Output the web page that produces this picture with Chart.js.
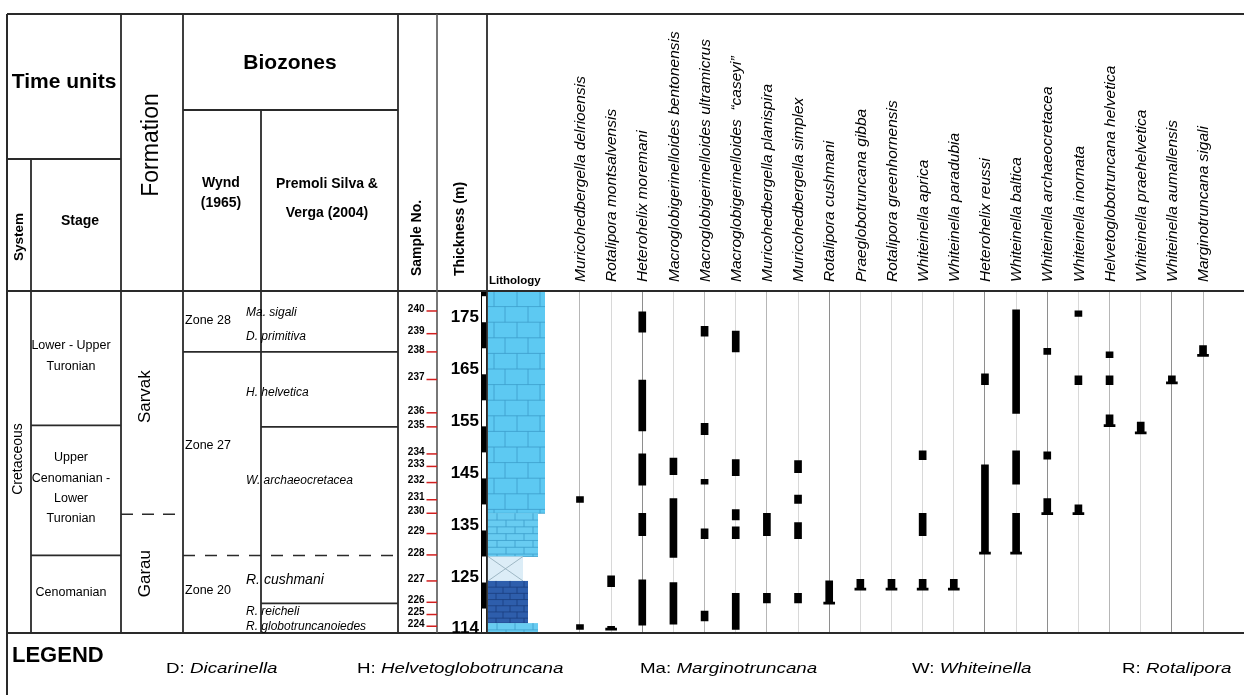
<!DOCTYPE html>
<html><head><meta charset="utf-8">
<script src="https://cdn.jsdelivr.net/npm/chart.js@4.4.1/dist/chart.umd.min.js"></script>
<style>html,body{margin:0;padding:0;background:#fff;}canvas{display:block;}</style>
</head><body>
<canvas id="c" width="1244" height="695"></canvas>
<script>
// ---------------- DATA ----------------
const species = [
  'Muricohedbergella delrioensis','Rotalipora montsalvensis','Heterohelix moremani',
  'Macroglobigerinelloides bentonensis','Macroglobigerinelloides ultramicrus',
  'Macroglobigerinelloides  \u201Ccaseyi\u201D','Muricohedbergella planispira','Muricohedbergella simplex',
  'Rotalipora cushmani','Praeglobotruncana gibba','Rotalipora greenhornensis','Whiteinella aprica',
  'Whiteinella paradubia','Heterohelix reussi','Whiteinella baltica','Whiteinella archaeocretacea',
  'Whiteinella inornata','Helvetoglobotruncana helvetica','Whiteinella praehelvetica',
  'Whiteinella aumallensis','Marginotruncana sigali'
];
// [species index, low (m), high (m)]
const ranges = [
  [0,139.4,140.5],[0,115.0,115.9],
  [1,123.2,125.3],[1,115.0,115.6],
  [2,172.1,176.0],[2,153.1,162.9],[2,142.7,148.7],[2,133.0,137.3],[2,115.8,124.5],
  [3,144.7,147.9],[3,128.8,140.1],[3,116.0,124.0],
  [4,171.3,173.2],[4,152.4,154.6],[4,142.9,143.8],[4,132.4,134.3],[4,116.6,118.5],
  [5,168.3,172.3],[5,144.5,147.6],[5,136.0,138.0],[5,132.4,134.7],[5,115.0,121.9],
  [6,133.0,137.3],[6,120.1,121.9],
  [7,145.1,147.4],[7,139.2,140.8],[7,132.4,135.5],[7,120.1,121.9],
  [8,120.0,124.3],
  [9,122.7,124.6],
  [10,122.7,124.6],
  [11,147.6,149.3],[11,133.0,137.3],[11,122.7,124.6],
  [12,122.7,124.6],
  [13,162.0,164.1],[13,129.6,146.6],
  [14,156.5,176.4],[14,142.9,149.3],[14,129.6,137.3],
  [15,167.8,169.0],[15,147.7,149.1],[15,137.2,140.1],
  [16,175.1,176.2],[16,162.0,163.7],[16,137.2,138.9],
  [17,167.2,168.3],[17,162.0,163.7],[17,154.1,156.2],
  [18,152.7,154.8],
  [19,162.3,163.7],
  [20,167.6,169.5]
];
// first-occurrence base markers: [species index, level (m)]
const feet = [[1,115.0],[8,120.0],[9,122.7],[10,122.7],[11,122.7],[12,122.7],[13,129.6],
  [14,129.6],[15,137.2],[16,137.2],[17,154.1],[18,152.7],[19,162.3],[20,167.6]];

const thicknessTicks = [114,125,135,145,155,165,175];
const sampleNo  = [224,225,226,227,228,229,230,231,232,233,234,235,236,237,238,239,240];
const sampleAt  = [115.6,117.85,120.2,124.3,129.3,133.4,137.3,139.9,143.2,146.3,148.7,153.9,156.6,163.0,168.3,171.8,176.16];

const scaleBarBlack = [[119,124],[129,134],[139,144],[149,154],[159,164],[169,174],[179,180]];

const lithoTop  = [180,137.3,129.0,124.3,116.2];
const lithoBase = [137.3,129.0,124.3,116.2,114.3];
const lithoType = ['limestone','thinLimestone','covered','darkLimestone','thinLimestone'];

const systemName = 'Cretaceous';
const stageNames = [['Lower - Upper','Turonian'],['Upper','Cenomanian -','Lower','Turonian'],['Cenomanian']];
const stageBounds = [180,154.2,129.2,114.3];
const formationNames = ['Sarvak','Garau'];
const formationBounds = [180,137.1,114.3];
const wyndZones = ['Zone 28','Zone 27','Zone 20'];
const wyndBounds = [180,168.3,129.2,114.3];
const premoliBounds = [168.3,153.9,129.2,120.0];
const premoliDashed = [false,false,true,false];
const premoliLabels = ['Ma. sigali','D. primitiva','H. helvetica','W. archaeocretacea','R. cushmani','R. reicheli','R. globotruncanoiedes'];
const premoliAt = [175.8,171.3,160.5,143.5,124.5,118.4,115.5];

const legendAbbr  = ['D','H','Ma','W','R'];
const legendGenus = ['Dicarinella','Helvetoglobotruncana','Marginotruncana','Whiteinella','Rotalipora'];

// ---------------- DRAWING ----------------
const FONT = '"Liberation Sans", Arial, Helvetica, sans-serif';
const darkCols = [2,8,13,15,19], midCols = [0,4,6,17,20];

function txt(ctx, s, x, y, font, align, rot, sx){
  ctx.save(); ctx.translate(x,y); if(rot) ctx.rotate(rot); if(sx) ctx.scale(sx,1);
  ctx.font = font; ctx.fillStyle = '#000'; ctx.textAlign = align || 'center'; ctx.textBaseline = 'middle';
  ctx.fillText(s,0,0); ctx.restore();
}
function ln(ctx,x1,y1,x2,y2,w,col,dash){
  ctx.save(); ctx.beginPath(); ctx.lineWidth = w||1.6; ctx.strokeStyle = col||'#2a2a2a';
  if(dash) ctx.setLineDash(dash);
  ctx.moveTo(x1,y1); ctx.lineTo(x2,y2); ctx.stroke(); ctx.restore();
}

const lithoStyle = {
  limestone:     {right:545, fill:'#5dc9f2', stroke:'#3c9dca', bed:15.6, joints:[[6,29,52],[17,40]]},
  thinLimestone: {right:538, fill:'#68ccf1', stroke:'#3c9dca', bed:6.8, joints:[[9,27,45],[18,36]]},
  covered:       {right:523, fill:'#dcedf7', stroke:'#8ea9b8'},
  darkLimestone: {right:528, fill:'#2e5eac', stroke:'#1a3d7e', bed:6.2, joints:[[8,22,36],[15,29]]}
};
const LX = 488;

const tablePlugin = {
  id: 'tablePlugin',
  beforeDraw(chart){
    const ctx = chart.ctx, Y = v => chart.scales.y.getPixelForValue(v);
    ctx.save();
    ctx.fillStyle = '#fff'; ctx.fillRect(0,0,chart.width,chart.height);
    // lithology column
    lithoType.forEach((t,i)=>{
      const st = lithoStyle[t], y1 = Y(lithoTop[i]), y2 = Y(lithoBase[i]);
      ctx.fillStyle = st.fill; ctx.fillRect(LX, y1, st.right-LX, y2-y1);
      ctx.strokeStyle = st.stroke; ctx.lineWidth = 0.8;
      if(t === 'covered'){
        ctx.beginPath(); ctx.moveTo(LX,y1); ctx.lineTo(st.right,y2); ctx.moveTo(st.right,y1); ctx.lineTo(LX,y2);
        ctx.stroke();
      } else {
        let k = 0;
        for(let yy = y1; yy < y2 - 0.5; yy += st.bed, k++){
          const yb = Math.min(yy + st.bed, y2);
          ctx.beginPath(); ctx.moveTo(LX, yb); ctx.lineTo(st.right, yb); ctx.stroke();
          st.joints[k%2].forEach(dx=>{ if(LX+dx < st.right){ ctx.beginPath(); ctx.moveTo(LX+dx,yy); ctx.lineTo(LX+dx,yb); ctx.stroke(); }});
        }
      }
    });
    // thickness scale bar
    const top = chart.chartArea.top, bot = chart.chartArea.bottom;
    ctx.fillStyle = '#fff'; ctx.fillRect(481, top, 6, bot-top);
    ctx.strokeStyle = '#000'; ctx.lineWidth = 1; ctx.strokeRect(481.5, top, 5, bot-top);
    ctx.fillStyle = '#000';
    scaleBarBlack.forEach(([a,b])=>{ ctx.fillRect(481, Y(b), 6, Y(a)-Y(b)); });
    ctx.restore();
  },
  afterDraw(chart){
    const ctx = chart.ctx, Y = v => chart.scales.y.getPixelForValue(v);
    const T = chart.chartArea.top, B = chart.chartArea.bottom;
    const XL=7, XSYS=31, XTIME=121, XFORM=183, XWYND=261, XPREM=398, XSAMP=437, XTHK=487, XR=1244;
    // frame
    ln(ctx, XL, 14, XR, 14, 2);
    ln(ctx, XL, 14, XL, 695, 2);
    ln(ctx, XL, T, XR, T, 2);
    ln(ctx, XL, B, XR, B, 2);
    ln(ctx, XL, 159, XTIME, 159, 1.8);
    ln(ctx, XSYS, 159, XSYS, B, 1.8);
    [XTIME, XFORM, XPREM].forEach(x=>ln(ctx, x, 14, x, B, 1.8));
    ln(ctx, XSAMP, 14, XSAMP, B, 1.6, '#555');
    ln(ctx, XTHK, 14, XTHK, B, 1.8);
    ln(ctx, XFORM, 110, XPREM, 110, 1.8);
    ln(ctx, XWYND, 110, XWYND, B, 1.8);
    // stage boundaries
    stageBounds.slice(1,-1).forEach(v=>ln(ctx, XSYS, Y(v), XTIME, Y(v), 1.8));
    formationBounds.slice(1,-1).forEach(v=>ln(ctx, XTIME, Y(v), XFORM, Y(v), 1.4, '#2a2a2a', [12,9]));
    premoliBounds.forEach((v,i)=>{
      const x0 = (v === wyndBounds[1] || premoliDashed[i]) ? XFORM : XWYND;
      ln(ctx, x0, Y(v), XPREM, Y(v), premoliDashed[i]?1.4:1.8, '#2a2a2a', premoliDashed[i]?[12,10]:null);
    });
    // header texts
    txt(ctx,'Time units',64,82,'bold 21px '+FONT);
    txt(ctx,'Formation',152,145,'23px '+FONT,'center',-Math.PI/2);
    txt(ctx,'Biozones',290,63,'bold 21px '+FONT);
    txt(ctx,'Wynd',221,183,'bold 14px '+FONT);
    txt(ctx,'(1965)',221,203,'bold 14px '+FONT);
    txt(ctx,'Premoli Silva &',327,184,'bold 14px '+FONT);
    txt(ctx,'Verga (2004)',327,213,'bold 14px '+FONT);
    txt(ctx,'System',19,237,'bold 13.5px '+FONT,'center',-Math.PI/2);
    txt(ctx,'Stage',80,221,'bold 14px '+FONT);
    txt(ctx,'Sample No.',417,238,'bold 14px '+FONT,'center',-Math.PI/2);
    txt(ctx,'Thickness (m)',460,229,'bold 14px '+FONT,'center',-Math.PI/2);
    txt(ctx,'Lithology',489,281,'bold 11.5px '+FONT,'left');
    // body texts
    txt(ctx, systemName, 18, (T+B)/2-3, '14px '+FONT,'center',-Math.PI/2);
    stageNames.forEach((lines,i)=>{
      const c = (Y(stageBounds[i])+Y(stageBounds[i+1]))/2, lh = 20.3;
      lines.forEach((s,j)=>txt(ctx, s, 71, c + (j-(lines.length-1)/2)*lh - 2, '12.5px '+FONT));
    });
    formationNames.forEach((s,i)=>{
      const c = (Y(formationBounds[i])+Y(formationBounds[i+1]))/2;
      txt(ctx, s, 145, c - (i===0?6:0), '17px '+FONT,'center',-Math.PI/2);
    });
    wyndZones.forEach((s,i)=>{
      const c = (Y(wyndBounds[i])+Y(wyndBounds[i+1]))/2;
      txt(ctx, s, 208, c - (i===1?8:(i===2?4:1)), '12.5px '+FONT);
    });
    premoliLabels.forEach((s,i)=>{
      txt(ctx, s, 246, Y(premoliAt[i]), 'italic '+(s==='R. cushmani'?'14px ':'12px ')+FONT,'left');
    });
    // sample numbers
    sampleNo.forEach((n,i)=>{
      const y = Y(sampleAt[i]);
      txt(ctx, String(n), 424.5, y-2, 'bold 10px '+FONT, 'right');
      ln(ctx, 426.5, y, 437, y, 1.5, '#d21f1f');
    });
    // thickness labels
    thicknessTicks.forEach(v=>{
      txt(ctx, String(v), 479, Math.min(Y(v), B-5), 'bold 17px '+FONT, 'right');
    });
    // legend
    txt(ctx,'LEGEND',12,656,'bold 22px '+FONT,'left');
    const lx = [166,357,640,912,1122], sx = 1.25;
    legendAbbr.forEach((a,i)=>{
      ctx.save(); ctx.font = '15px '+FONT;
      const w = ctx.measureText(a+': ').width*sx; ctx.restore();
      txt(ctx, a+': ', lx[i], 669, '15px '+FONT, 'left', 0, sx);
      txt(ctx, legendGenus[i], lx[i]+w, 669, 'italic 15px '+FONT, 'left', 0, sx);
    });
  }
};

const chart = new Chart(document.getElementById('c'), {
  type: 'bar',
  data: {
    labels: species,
    datasets: [
      { data: ranges.map(([i,lo,hi])=>({x:species[i], y:[lo,hi]})), backgroundColor:'#000',
        barThickness:7, grouped:false, borderSkipped:false },
      { data: feet.map(([i,v])=>({x:species[i], y:[v-0.15, v+0.25]})), backgroundColor:'#000',
        barThickness:11, grouped:false, borderSkipped:false }
    ]
  },
  options: {
    responsive:false, animation:false, devicePixelRatio:1,
    layout:{ padding:{ left:564.4, right:25.4, top:14, bottom:62 } },
    plugins:{ legend:{display:false}, tooltip:{enabled:false} },
    scales:{
      x:{ type:'category', position:'top', offset:true,
          grid:{ offset:false, drawTicks:false, lineWidth:1,
                 color: c => darkCols.includes(c.index) ? '#8e8e8e' : (midCols.includes(c.index) ? '#b6b6b6' : '#d8d8d8') },
          border:{ display:false },
          ticks:{ minRotation:90, maxRotation:90, autoSkip:false, padding:9, labelOffset:19.5, color:'#000',
                  font:{ family:FONT, size:15.5, style:'italic' } },
          afterFit: s => { s.height = 277; } },
      y:{ type:'linear', min:114.3, max:180, display:false }
    }
  },
  plugins:[tablePlugin]
});
</script>
</body></html>
